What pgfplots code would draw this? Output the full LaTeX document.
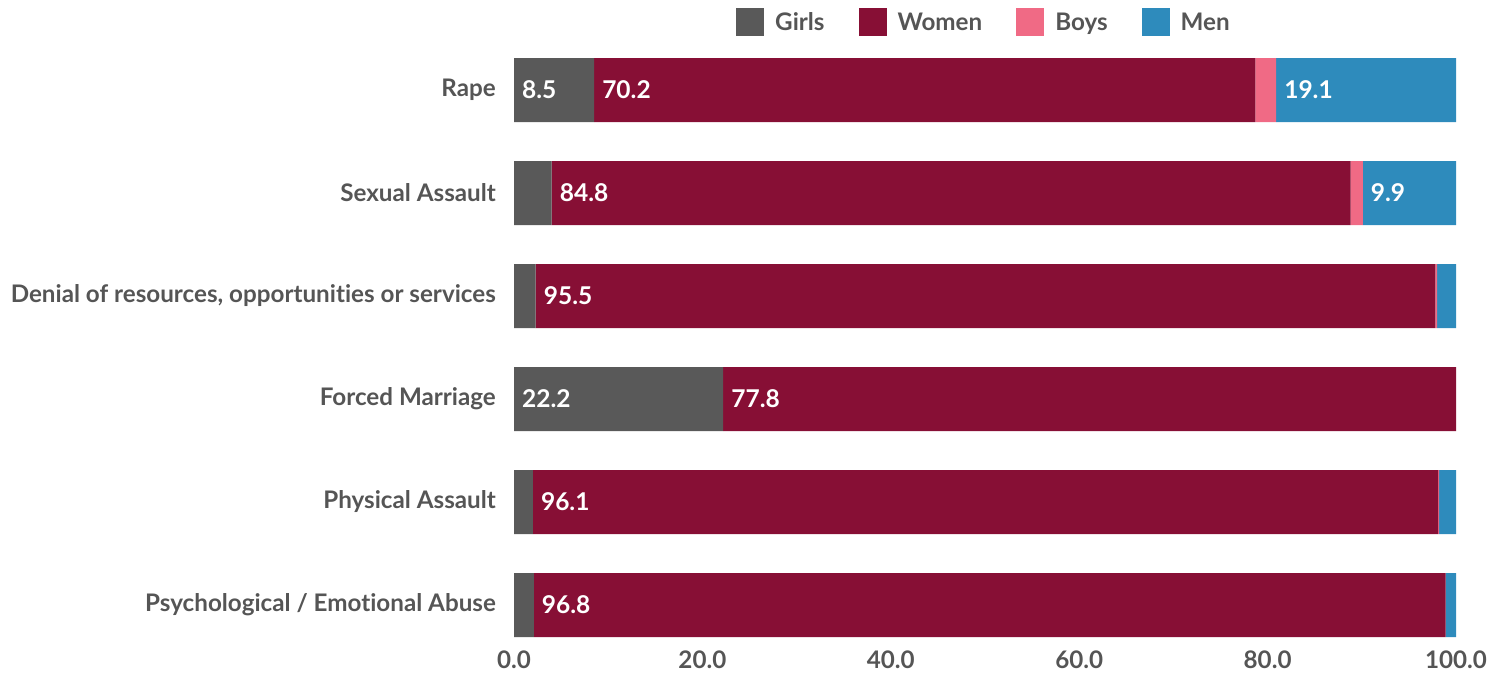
\documentclass[border=0pt]{standalone}
\usepackage{pgfplots}
\pgfplotsset{compat=1.18}
\usepackage{fontspec}
\setmainfont[Ligatures=NoCommon]{Lato}
\definecolor{cGirls}{HTML}{595959}
\definecolor{cWomen}{HTML}{870F35}
\definecolor{cBoys}{HTML}{F06A85}
\definecolor{cMen}{HTML}{2E8BBC}
\definecolor{txt}{HTML}{555555}
\newcommand{\lblfont}{\bfseries\fontsize{24.2bp}{28bp}\selectfont}
\newcommand{\valfont}{\bfseries\fontsize{24.5bp}{28bp}\selectfont}
\begin{document}
\begin{tikzpicture}
\useasboundingbox (0,0) rectangle (1499bp,-673bp);
\pgfplotsset{common/.style={
  at={(514bp,-43.65bp)}, anchor=north west,
  scale only axis, width=942bp, height=602.55bp,
  xmin=0, xmax=100, ymin=-0.45, ymax=5.4, y dir=reverse,
  axis line style={draw=none}, major tick length=0pt,
}}
\begin{axis}[common, xbar stacked, bar width=64bp,
  xtick={0,20,...,100}, ytick={0,...,5},
  yticklabels={Rape,Sexual Assault,{Denial of resources, opportunities or services},Forced Marriage,Physical Assault,Psychological / Emotional Abuse},
  /pgf/number format/assume math mode=true,
  xticklabel={\pgfmathprintnumber[fixed,fixed zerofill,precision=1]{\tick}},
  xticklabel style={font=\lblfont, text=txt, inner sep=0pt, anchor=north, yshift=-4bp},
  yticklabel style={font=\lblfont, text=txt, inner sep=0pt, anchor=east, xshift=-18bp},
  legend columns=4,
  legend style={at={(0.2357,1.0359)}, anchor=west, draw=none, fill=none, inner sep=0pt,
    nodes={inner sep=0pt, text=txt, font=\lblfont},
    /tikz/every odd column/.append style={column sep=11bp},
    /tikz/every even column/.append style={column sep=34bp}},
  legend cell align=left,
  legend image code/.code={\fill[#1] (0bp,-14bp) rectangle (28bp,14bp);},
]
\addplot[fill=cGirls, draw=none] table[x=v, y=c] {
c v
0 8.5
1 4.0
2 2.3
3 22.2
4 2.0
5 2.1
};
\addplot[fill=cWomen, draw=none] table[x=v, y=c] {
c v
0 70.2
1 84.8
2 95.5
3 77.8
4 96.1
5 96.8
};
\addplot[fill=cBoys, draw=none] table[x=v, y=c] {
c v
0 2.2
1 1.3
2 0.2
3 0
4 0.1
5 0
};
\addplot[fill=cMen, draw=none] table[x=v, y=c] {
c v
0 19.1
1 9.9
2 2.0
3 0
4 1.8
5 1.1
};
\legend{Girls,Women,Boys,Men}
\end{axis}
\begin{axis}[common, hide axis]
\addplot[draw=none, mark=none, nodes near coords, point meta=explicit symbolic,
  every node near coord/.append style={anchor=west, inner sep=0pt, xshift=8bp, text=white, font=\valfont}]
  table[x=x, y=c, meta=lab] {
x c lab
0 0 8.5
8.5 0 70.2
80.9 0 19.1
4.0 1 84.8
90.1 1 9.9
2.3 2 95.5
0 3 22.2
22.2 3 77.8
2.0 4 96.1
2.1 5 96.8
};
\end{axis}
\end{tikzpicture}
\end{document}
